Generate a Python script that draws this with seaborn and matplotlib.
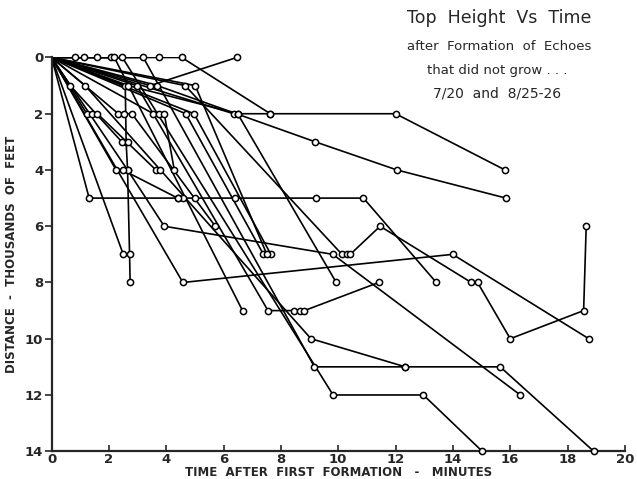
import pandas as pd
import matplotlib.pyplot as plt
import seaborn as sns

# each echo: times (minutes) and top distances (thousands of feet below first top)
echo_times = [
    [0, 0.8, 1.13, 1.6, 2.47, 9.82, 12.97, 15.02],
    [0, 2.08, 2.19, 6.66],
    [0, 3.2, 9.17, 12.34, 15.65, 18.91],
    [0, 3.75, 4.54, 7.63, 12.0, 15.82],
    [0, 3.44, 6.46],
    [0, 3.69, 9.2, 12.05, 15.85],
    [0, 1.31, 4.4, 4.6, 5.0, 6.4, 9.23, 10.88, 13.42],
    [0, 2.65, 3.93, 9.81, 16.35],
    [0, 2.5],
    [0, 2.57, 2.6, 2.65, 2.72, 2.74],
    [0, 4.58, 13.99, 18.74],
    [0, 1.23, 1.4, 1.6, 3.64, 3.79],
    [0, 2.33, 2.53, 2.8, 5.71],
    [0, 3.55, 3.73, 3.93, 4.28],
    [0, 4.68, 7.39],
    [0, 4.97, 7.65],
    [0, 5.01, 7.51],
    [0, 6.35, 6.49, 9.93],
    [0, 2.25, 2.48, 4.4],
    [0, 0.65, 2.45, 2.68],
    [0, 4.66, 10.13, 10.3, 10.42, 11.46, 14.64, 14.86, 16.0, 18.56, 18.65],
    [0, 2.97, 7.55, 8.47, 8.65, 8.82, 11.41],
    [0, 1.17, 9.05, 12.34],
    [0, 2.68, 6.5, 7.63],
]
echo_depths = [
    [0, 0, 0, 0, 0, 12, 12, 14],
    [0, 0, 0, 9],
    [0, 0, 11, 11, 11, 14],
    [0, 0, 0, 2, 2, 4],
    [0, 1, 0],
    [0, 1, 3, 4, 5],
    [0, 5, 5, 5, 5, 5, 5, 5, 8],
    [0, 4, 6, 7, 12],
    [0, 7],
    [0, 1, 3, 4, 7, 8],
    [0, 8, 7, 10],
    [0, 2, 2, 2, 4, 4],
    [0, 2, 2, 2, 6],
    [0, 2, 2, 2, 4],
    [0, 2, 7],
    [0, 2, 7],
    [0, 1, 7],
    [0, 2, 2, 8],
    [0, 4, 4, 5],
    [0, 1, 3, 3],
    [0, 1, 7, 7, 7, 6, 8, 8, 10, 9, 6],
    [0, 1, 9, 9, 9, 9, 8],
    [0, 1, 10, 11],
    [0, 1, 2, 2],
]

rows = []
for i, (ts, ds) in enumerate(zip(echo_times, echo_depths)):
    for k, (t, d) in enumerate(zip(ts, ds)):
        rows.append({'echo': i, 'order': k, 'time': t, 'depth': d})
df = pd.DataFrame(rows)
pts = df[df['order'] > 0]

sns.set_style('ticks')
plt.rcParams['font.family'] = ['DejaVu Sans']

fig = plt.figure(figsize=(6.37, 4.79), dpi=100)
ax = fig.add_axes([0.081, 0.058, 0.900, 0.822])

sns.lineplot(data=df, x='time', y='depth', units='echo', estimator=None, sort=False,
             color='black', linewidth=1.2, ax=ax, legend=False)
sns.scatterplot(data=pts, x='time', y='depth', marker='o', s=20, facecolor='white',
                edgecolor='black', linewidth=1.1, ax=ax, legend=False, zorder=3, clip_on=False)

ax.set_xlim(0, 20)
ax.set_ylim(14, 0)
ax.set_xticks(range(0, 21, 2))
ax.set_yticks(range(0, 15, 2))
ax.set_yticklabels(['0', '2', '4', '6', '8', '10', '12', '14'])
ax.tick_params(axis='x', direction='in', length=4, width=1.2, labelsize=9.5, pad=1)
ax.tick_params(axis='y', direction='out', length=5, width=1.2, labelsize=9.5, pad=1)
for lab in ax.get_xticklabels() + ax.get_yticklabels():
    lab.set_fontweight('bold')
sns.despine(ax=ax)
for s in ['left', 'bottom']:
    ax.spines[s].set_linewidth(1.6)

ax.set_xlabel('TIME  AFTER  FIRST  FORMATION   -   MINUTES', fontsize=8.5, fontweight='bold', labelpad=0)
ax.set_ylabel('DISTANCE  -  THOUSANDS  OF  FEET', fontsize=8.5, fontweight='bold', labelpad=5)

fig.text(0.783, 0.962, 'Top  Height  Vs  Time', ha='center', va='center', fontsize=12.5)
fig.text(0.783, 0.902, 'after  Formation  of  Echoes', ha='center', va='center', fontsize=9.5)
fig.text(0.780, 0.852, 'that did not grow . . .', ha='center', va='center', fontsize=9.5)
fig.text(0.781, 0.804, '7/20  and  8/25-26', ha='center', va='center', fontsize=10)

plt.savefig('out.png', dpi=100)
